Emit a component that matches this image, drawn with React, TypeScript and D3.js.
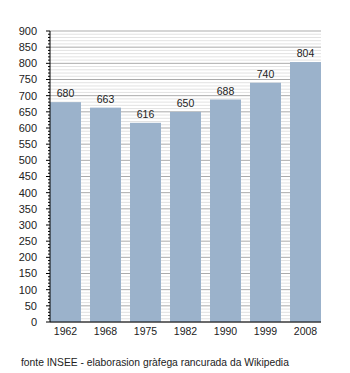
import React from 'react';
import * as d3 from 'd3';

// data
const years = ['1962', '1968', '1975', '1982', '1990', '1999', '2008'];
const population = [680, 663, 616, 650, 688, 740, 804];
const yMax = 900;
const majorStep = 50;
const minorStep = 10;
const footnote = 'fonte INSEE - elaborasion gràfega rancurada da Wikipedia';

const W = 350;
const H = 373;
const margin = { top: 31, right: 29, bottom: 51, left: 50 };

const App = () => {
    const innerW = W - margin.left - margin.right;
    const innerH = H - margin.top - margin.bottom;

    const x = d3.scaleBand<string>()
        .domain(years)
        .range([0, innerW])
        .paddingInner(0.225)
        .paddingOuter(0);

    const y = d3.scaleLinear().domain([0, yMax]).range([innerH, 0]);

    const majors = d3.range(0, yMax + 1, majorStep);
    const minors = d3.range(0, yMax + 1, minorStep).filter(v => v % majorStep !== 0);

    const font = 'Liberation Sans, Arial, sans-serif';

    return (
        <svg width={W} height={H} style={{ position: 'absolute', left: 0, top: 0 }}>
            <rect width={W} height={H} fill="#fff" />
            <g transform={`translate(${margin.left},${margin.top})`}>
                {/* minor grid */}
                {minors.map(v => (
                    <line key={'mg' + v} x1={0} x2={innerW} y1={y(v)} y2={y(v)} stroke="#e2e2e2" />
                ))}
                {/* major grid */}
                {majors.map(v => (
                    <line key={'Mg' + v} x1={0} x2={innerW} y1={y(v)} y2={y(v)} stroke="#ababab" />
                ))}

                {/* bars */}
                {years.map((yr, i) => (
                    <g key={yr}>
                        <rect
                            x={x(yr)}
                            y={y(population[i])}
                            width={x.bandwidth()}
                            height={innerH - y(population[i])}
                            fill="#9bb2cb"
                        />
                        <text
                            x={(x(yr) ?? 0) + x.bandwidth() / 2}
                            y={y(population[i]) - 5}
                            textAnchor="middle"
                            fontFamily={font}
                            fontSize={10.5}
                            fill="#222"
                        >
                            {population[i]}
                        </text>
                        <text
                            x={(x(yr) ?? 0) + x.bandwidth() / 2}
                            y={innerH + 13}
                            textAnchor="middle"
                            fontFamily={font}
                            fontSize={10.5}
                            fill="#222"
                        >
                            {yr}
                        </text>
                    </g>
                ))}

                {/* y axis */}
                <line x1={0} x2={0} y1={0} y2={innerH} stroke="#000" />
                {minors.map(v => (
                    <line key={'mt' + v} x1={-2} x2={0} y1={y(v)} y2={y(v)} stroke="#000" />
                ))}
                {majors.map(v => (
                    <g key={'Mt' + v}>
                        <line x1={-4} x2={0} y1={y(v)} y2={y(v)} stroke="#000" />
                        <text
                            x={-13}
                            y={y(v)}
                            dy="0.35em"
                            textAnchor="end"
                            fontFamily={font}
                            fontSize={11}
                            fill="#222"
                        >
                            {v}
                        </text>
                    </g>
                ))}
                {/* x axis */}
                <line x1={0} x2={innerW} y1={innerH} y2={innerH} stroke="#000" />
            </g>
            <text x={21} y={366} fontFamily={font} fontSize={10.3} fill="#222">
                {footnote}
            </text>
        </svg>
    );
};

export default App;
